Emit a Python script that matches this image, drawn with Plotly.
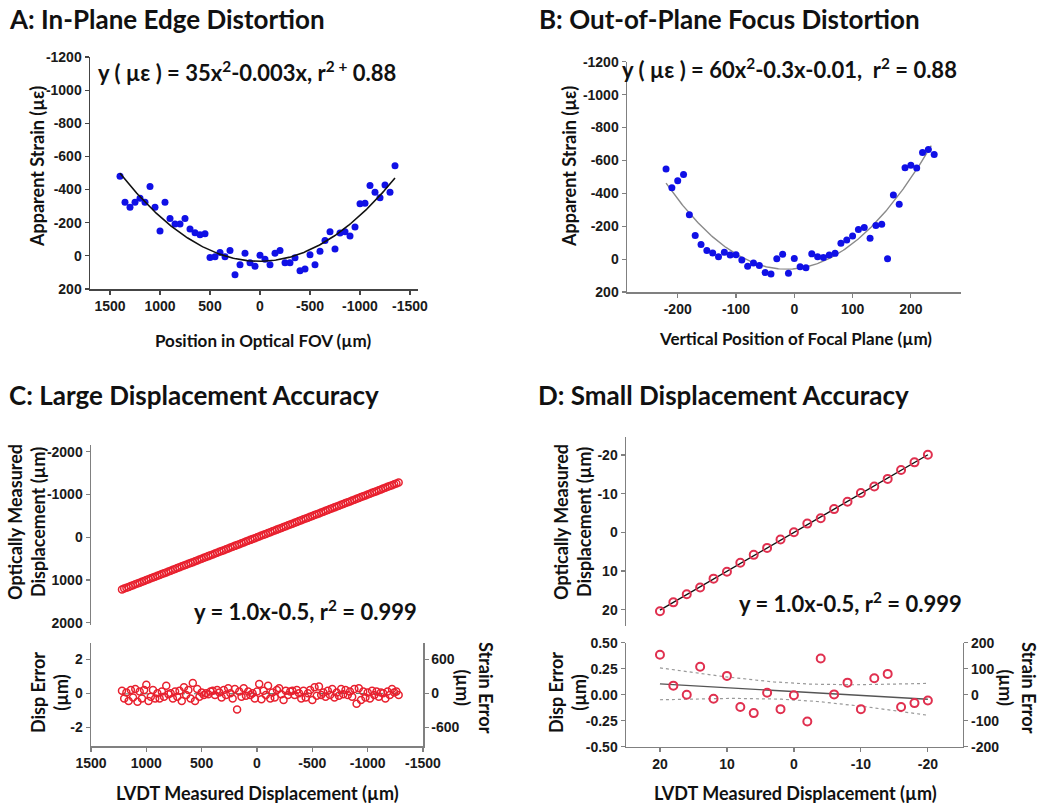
import numpy as np
import plotly.graph_objects as go

W, H = 1050, 806

# ---------------- DATA ----------------
# Panel A: In-plane edge distortion
a_pos = [1400, 1350, 1300, 1250, 1200, 1150, 1100, 1050, 1000, 950, 900, 850, 800, 750, 700,
         650, 600, 550, 500, 450, 400, 350, 300, 250, 200, 150, 100, 50, 0, -50, -100, -150,
         -200, -250, -300, -350, -400, -450, -500, -550, -600, -650, -700, -750, -800, -850,
         -900, -950, -1000, -1050, -1100, -1150, -1200, -1250, -1300, -1350]
a_strain = [-480, -324, -294, -324, -348, -324, -418, -294, -150, -324, -226, -192, -192, -226,
            -162, -140, -128, -134, 10, 6, -20, 6, -32, 114, 54, -16, 42, 62, -4, 20, 54, -16,
            -32, 42, 42, 12, 90, 80, -6, 54, -28, -92, -146, -42, -138, -146, -120, -174, -314,
            -318, -424, -384, -350, -428, -384, -544]

# Panel B: Out-of-plane focus distortion
b_pos = [-220, -210, -200, -190, -180, -170, -160, -150, -140, -130, -120, -110, -100, -90, -80,
         -70, -60, -50, -40, -30, -20, -10, 0, 10, 20, 30, 40, 50, 60, 70, 80, 90, 100, 110, 120,
         130, 140, 150, 160, 170, 180, 190, 200, 210, 220, 230, 240]
b_strain = [-548, -433, -476, -515, -270, -143, -88, -53, -37, -14, -41, -25, -27, 6, 43, 23, 39,
            82, 90, -2, -29, 86, -4, 47, 53, -32, -14, -10, -25, -35, -96, -116, -141, -180, -192,
            -127, -204, -212, -2, -390, -333, -556, -570, -554, -648, -666, -636]

# Panel C: Large displacement accuracy (LVDT position, displacement error)
c_lvdt = [1220, 1200, 1180, 1160, 1140, 1120, 1100, 1080, 1060, 1040, 1020, 1000, 980, 960, 940,
          920, 900, 880, 860, 840, 820, 800, 780, 760, 740, 720, 700, 680, 660, 640, 620, 600,
          580, 560, 540, 520, 500, 480, 460, 440, 420, 400, 380, 360, 340, 320, 300, 280, 260,
          240, 220, 200, 180, 160, 140, 120, 100, 80, 60, 40, 20, 0, -20, -40, -60, -80, -100,
          -120, -140, -160, -180, -200, -220, -240, -260, -280, -300, -320, -340, -360, -380,
          -400, -420, -440, -460, -480, -500, -520, -540, -560, -580, -600, -620, -640, -660,
          -680, -700, -720, -740, -760, -780, -800, -820, -840, -860, -880, -900, -920, -940,
          -960, -980, -1000, -1020, -1040, -1060, -1080, -1100, -1120, -1140, -1160, -1180,
          -1200, -1220, -1240, -1260, -1280]
c_err = [0.15, -0.3, 0.05, -0.45, 0.2, -0.25, 0.25, -0.5, 0.1, -0.3, 0.2, 0.5, -0.45, -0.2, 0.2,
         -0.3, 0.0, -0.3, 0.1, -0.2, 0.45, -0.05, 0.0, -0.3, 0.1, -0.2, 0.15, -0.45, 0.35, -0.1,
         0.2, -0.3, 0.6, -0.45, 0.25, -0.2, 0.05, -0.1, 0.0, -0.05, 0.1, 0.15, -0.1, 0.2, 0.05,
         -0.25, 0.2, -0.1, 0.3, 0.0, -0.3, 0.25, -0.95, 0.1, -0.2, 0.3, -0.15, 0.1, -0.1, 0.0,
         -0.3, 0.1, 0.55, -0.35, 0.15, -0.1, 0.45, -0.3, 0.05, -0.25, 0.2, 0.3, -0.05, -0.4,
         0.15, -0.1, 0.1, 0.15, -0.1, 0.2, 0.0, -0.3, 0.15, -0.25, 0.0, 0.2, -0.4, 0.35, -0.15,
         0.4, -0.1, 0.05, -0.2, 0.15, -0.1, 0.25, -0.25, 0.05, -0.15, 0.25, -0.05, 0.2, -0.1,
         0.1, -0.2, 0.25, -0.62, 0.3, -0.4, 0.1, -0.25, 0.05, -0.3, 0.15, -0.1, 0.1, -0.2, 0.05,
         0.0, -0.3, 0.1, -0.1, 0.25, 0.05, 0.1, -0.1]

# Panel D: Small displacement accuracy
d_lvdt = [20, 18, 16, 14, 12, 10, 8, 6, 4, 2, 0, -2, -4, -6, -8, -10, -12, -14, -16, -18, -20]
d_err = [0.384, 0.087, 0.0, 0.268, -0.039, 0.181, -0.119, -0.177, 0.019, -0.139, -0.006, -0.258,
         0.348, 0.003, 0.116, -0.139, 0.158, 0.2, -0.119, -0.081, -0.055]

# tick values and labels
a_xticks = [1500, 1000, 500, 0, -500, -1000, -1500]
a_yticks = [-1200, -1000, -800, -600, -400, -200, 0, 200]
b_xticks = [-200, -100, 0, 100, 200]
c_yticks = [-2000, -1000, 0, 1000, 2000]
c_xticks = [1500, 1000, 500, 0, -500, -1000, -1500]
c_eticks = [-2, 0, 2]
c_sticks = [-600, 0, 600]
d_yticks = [-20, -10, 0, 10, 20]
d_xticks = [20, 10, 0, -10, -20]
d_eticks = [-0.5, -0.25, 0.0, 0.25, 0.5]
d_eticktext = ["-0.50", "-0.25", "0.00", "0.25", "0.50"]
d_sticks = [-200, -100, 0, 100, 200]

# ---------------- helpers ----------------
def px(x, y):
    return x / W, 1 - y / H

def dom_x(x0, x1):
    return [x0 / W, x1 / W]

def dom_y(y_top, y_bot):
    return [1 - y_bot / H, 1 - y_top / H]

def labels(vals):
    return [str(v) for v in vals]

TICKFONT = dict(family="Liberation Sans, Arial, sans-serif", size=14, color="#1a1a1a", weight="bold")
TFONT = "Lato, Open Sans, sans-serif"

def ax(tickvals=None, ticktext=None, **kw):
    base = dict(showgrid=False, zeroline=False, showline=True, linewidth=1.5,
                linecolor="#808080", ticks="outside", ticklen=4, tickwidth=1.2,
                tickcolor="#808080", tickfont=TICKFONT, fixedrange=True, automargin=False)
    if tickvals is not None:
        base["tickmode"] = "array"
        base["tickvals"] = tickvals
        base["ticktext"] = ticktext if ticktext is not None else labels(tickvals)
    base.update(kw)
    return base

fig = go.Figure()

# Panel A
a_fit = np.polyfit(a_pos, a_strain, 2)
a_fx = np.linspace(max(a_pos), min(a_pos), 200)
fig.add_trace(go.Scatter(x=a_pos, y=a_strain, mode="markers", xaxis="x", yaxis="y",
                         marker=dict(color="#1010e6", size=7), showlegend=False))
fig.add_trace(go.Scatter(x=a_fx, y=np.polyval(a_fit, a_fx), mode="lines", xaxis="x", yaxis="y",
                         line=dict(color="#111111", width=1.6), showlegend=False))

# Panel B
b_fit = np.polyfit(b_pos, b_strain, 2)
b_fx = np.linspace(min(b_pos), 235, 200)
fig.add_trace(go.Scatter(x=b_fx, y=np.polyval(b_fit, b_fx), mode="lines", xaxis="x2", yaxis="y2",
                         line=dict(color="#8a8a8a", width=1.4), showlegend=False))
fig.add_trace(go.Scatter(x=b_pos, y=b_strain, mode="markers", xaxis="x2", yaxis="y2",
                         marker=dict(color="#1010e6", size=7), showlegend=False))

# Panel C
c_opt = [x + e for x, e in zip(c_lvdt, c_err)]
fig.add_trace(go.Scatter(x=c_lvdt, y=c_opt, mode="markers", xaxis="x3", yaxis="y3",
                         marker=dict(symbol="circle-open", color="#e8202e", size=7,
                                     line=dict(width=1.5)), showlegend=False))
c_efit = np.polyfit(c_lvdt, c_err, 1)
c_ex = np.array([max(c_lvdt), min(c_lvdt)])
fig.add_trace(go.Scatter(x=c_ex, y=np.polyval(c_efit, c_ex), mode="lines", xaxis="x4", yaxis="y4",
                         line=dict(color="#557766", width=1, dash="dash"), showlegend=False))
fig.add_trace(go.Scatter(x=c_lvdt, y=c_err, mode="markers", xaxis="x4", yaxis="y4",
                         marker=dict(symbol="circle-open", color="#e8202e", size=7,
                                     line=dict(width=1.5)), showlegend=False))
# register right-hand strain axis
fig.add_trace(go.Scatter(x=[None], y=[None], xaxis="x4", yaxis="y5", mode="markers",
                         showlegend=False, hoverinfo="skip"))

# Panel D
d_opt = [x + e for x, e in zip(d_lvdt, d_err)]
d_lfit = np.polyfit(d_lvdt, d_opt, 1)
d_lx = np.array([max(d_lvdt), min(d_lvdt)])
fig.add_trace(go.Scatter(x=d_lx, y=np.polyval(d_lfit, d_lx), mode="lines", xaxis="x6", yaxis="y6",
                         line=dict(color="#111111", width=1.4), showlegend=False))
fig.add_trace(go.Scatter(x=d_lvdt, y=d_opt, mode="markers", xaxis="x6", yaxis="y6",
                         marker=dict(symbol="circle-open", color="#e0304f", size=8,
                                     line=dict(width=2)), showlegend=False))
# regression + 95% confidence band of error
dx = np.array(d_lvdt, dtype=float)
de = np.array(d_err, dtype=float)
n = len(dx)
sl, ic = np.polyfit(dx, de, 1)
res = de - (sl * dx + ic)
s = np.sqrt(np.sum(res ** 2) / (n - 2))
xg = np.linspace(dx.max(), dx.min(), 100)
se = s * np.sqrt(1 / n + (xg - dx.mean()) ** 2 / np.sum((dx - dx.mean()) ** 2))
tval = 2.093
fit = sl * xg + ic
fig.add_trace(go.Scatter(x=xg, y=fit + tval * se, mode="lines", xaxis="x7", yaxis="y7",
                         line=dict(color="#999999", width=1.2, dash="dot"), showlegend=False))
fig.add_trace(go.Scatter(x=xg, y=fit - tval * se, mode="lines", xaxis="x7", yaxis="y7",
                         line=dict(color="#999999", width=1.2, dash="dot"), showlegend=False))
fig.add_trace(go.Scatter(x=xg, y=fit, mode="lines", xaxis="x7", yaxis="y7",
                         line=dict(color="#555555", width=1.4), showlegend=False))
fig.add_trace(go.Scatter(x=d_lvdt, y=d_err, mode="markers", xaxis="x7", yaxis="y7",
                         marker=dict(symbol="circle-open", color="#e0304f", size=8,
                                     line=dict(width=2)), showlegend=False))
fig.add_trace(go.Scatter(x=[None], y=[None], xaxis="x7", yaxis="y8", mode="markers",
                         showlegend=False, hoverinfo="skip"))

# ---------------- layout ----------------
layout = dict(
    template="none",
    width=W, height=H, margin=dict(l=0, r=0, t=0, b=0, pad=0), autosize=False,
    paper_bgcolor="white", plot_bgcolor="white", showlegend=False,
    # A
    xaxis=ax(a_xticks, domain=dom_x(90, 418), range=[1700, -1580], anchor="y",
             linecolor="#444444", tickcolor="#444444"),
    yaxis=ax(a_yticks, domain=dom_y(57, 289), range=[200, -1200], anchor="x",
             linecolor="#444444", tickcolor="#444444"),
    # B
    xaxis2=ax(b_xticks, domain=dom_x(627, 961), range=[-287, 286], anchor="y2"),
    yaxis2=ax(a_yticks, domain=dom_y(61.7, 292), range=[200, -1200], anchor="x2"),
    # C top
    xaxis3=ax(None, domain=dom_x(91, 423), range=[1500, -1500], visible=False, anchor="y3"),
    yaxis3=ax(c_yticks, domain=dom_y(445, 625), range=[2051, -2159], anchor="x3"),
    # C bottom
    xaxis4=ax(c_xticks, domain=dom_x(91, 423), range=[1500, -1500], anchor="y4"),
    yaxis4=ax(c_eticks, domain=dom_y(643.3, 746), range=[-3.1, 2.94], anchor="x4"),
    yaxis5=ax(c_sticks, overlaying="y4", side="right", anchor="x4", range=[-930, 882]),
    # D top
    xaxis6=ax(None, domain=dom_x(626, 962.7), range=[25.07, -25.2], visible=False, anchor="y6"),
    yaxis6=ax(d_yticks, domain=dom_y(437.3, 626), range=[24.2, -24.55], anchor="x6"),
    # D bottom
    xaxis7=ax(d_xticks, domain=dom_x(626, 962.7), range=[25.07, -25.2], anchor="y7"),
    yaxis7=ax(d_eticks, d_eticktext, domain=dom_y(642.7, 746.7), range=[-0.5, 0.5], anchor="x7"),
    yaxis8=ax(d_sticks, overlaying="y7", side="right", anchor="x7", range=[-200, 200]),
)
fig.update_layout(**layout)

ann = []

def text(x, y, t, size, xanchor="left", angle=0, family=TFONT):
    xp, yp = px(x, y)
    ann.append(dict(x=xp, y=yp, xref="paper", yref="paper", text=t, showarrow=False,
                    xanchor=xanchor, yanchor="middle", textangle=angle, borderpad=0,
                    font=dict(family=family, size=size, color="#111111", weight="bold")))

# panel titles
text(8, 19, "A: In-Plane Edge Distortion", 26)
text(538, 19, "B: Out-of-Plane Focus Distortion", 26)
text(8, 395, "C: Large Displacement Accuracy", 26)
text(537, 395, "D: Small Displacement Accuracy", 26)
# equations
text(97, 71, "y ( µε ) = 35x<sup>2</sup>-0.003x, r<sup>2 +</sup> 0.88", 22)
text(621, 69, "y ( µε ) = 60x<sup>2</sup>-0.3x-0.01,  r<sup>2</sup> = 0.88", 22)
text(193, 610, "y = 1.0x-0.5, r<sup>2</sup> = 0.999", 22)
text(738, 602, "y = 1.0x-0.5, r<sup>2</sup> = 0.999", 22)
# axis titles
text(37, 167, "Apparent Strain (µε)", 18, "center", -90)
text(263, 340, "Position in Optical FOV (µm)", 17, "center")
text(569, 167, "Apparent Strain (µε)", 18, "center", -90)
text(795, 339, "Vertical Position of Focal Plane (µm)", 17, "center")
text(26, 522, "Optically Measured<br>Displacement (µm)", 18, "center", -90)
text(49, 693, "Disp Error<br>(µm)", 18, "center", -90)
text(475, 688, "Strain Error<br>(µm)", 18, "center", 90)
text(257, 793, "LVDT Measured Displacement (µm)", 18, "center")
text(572, 522, "Optically Measured<br>Displacement (µm)", 18, "center", -90)
text(567, 693, "Disp Error<br>(µm)", 18, "center", -90)
text(1018, 688, "Strain Error<br>(µm)", 18, "center", 90)
text(795, 793, "LVDT Measured Displacement (µm)", 18, "center")

fig.update_layout(annotations=ann)
fig.write_html("out.html", config={"displayModeBar": False, "staticPlot": True},
               post_script="document.body.style.margin='0';document.body.style.overflow='hidden';")
